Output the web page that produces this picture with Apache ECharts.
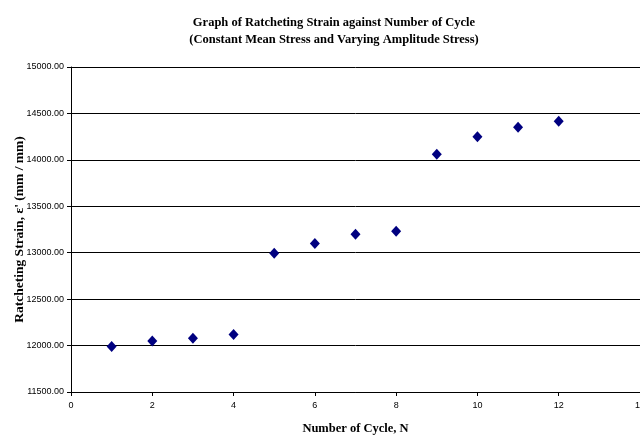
<!DOCTYPE html>
<html><head><meta charset="utf-8">
<script src="https://cdn.jsdelivr.net/npm/echarts@6/dist/echarts.min.js"></script>
<style>html,body{margin:0;padding:0;background:#fff}#c{width:640px;height:435px}</style>
</head><body><div id="c"></div>
<script>
const cycles = [1,2,3,4,5,6,7,8,9,10,11,12];
const strain = [11990,12050,12080,12120,12995,13100,13200,13230,14060,14250,14350,14415];
const titleLines = ['Graph of Ratcheting Strain against Number of Cycle','(Constant Mean Stress and Varying Amplitude Stress)'];
const xName = 'Number of Cycle, N';
const yName = "Ratcheting Strain, ε' (mm / mm)";

const chart = echarts.init(document.getElementById('c'), null, {renderer:'canvas'});
chart.setOption({
  animation:false,
  backgroundColor:'#fff',
  title:{text:titleLines.join('\n'), left:329, top:9, textAlign:'center',
    textStyle:{fontFamily:'Liberation Serif', fontWeight:'bold', fontSize:12.5, lineHeight:17, color:'#000'}},
  grid:{left:71, right:0, top:67, bottom:43, containLabel:false, outerBoundsMode:'none'},
  xAxis:{type:'value', min:0, max:14, interval:2,
    name:xName, nameLocation:'middle', nameGap:30,
    nameTextStyle:{fontFamily:'Liberation Serif', fontWeight:'bold', fontSize:12.5, color:'#000'},
    axisLine:{lineStyle:{color:'#000', width:1}},
    axisTick:{show:true, length:4, lineStyle:{color:'#000'}},
    axisLabel:{fontFamily:'Liberation Sans', fontSize:9, color:'#000', margin:9},
    splitLine:{show:false}},
  yAxis:{type:'value', min:11500, max:15000, interval:500,
    name:yName, nameLocation:'middle', nameGap:44, nameRotate:90, nameMoveOverlap:false,
    nameTextStyle:{fontFamily:'Liberation Serif', fontWeight:'bold', fontSize:13.5, color:'#000'},
    axisLine:{show:true, lineStyle:{color:'#000', width:1}},
    axisTick:{show:true, length:4, lineStyle:{color:'#000'}},
    axisLabel:{fontFamily:'Liberation Sans', fontSize:9, color:'#000', margin:7,
      formatter:v=>v.toFixed(2)},
    splitLine:{show:true, lineStyle:{color:'#000', width:1}}},
  series:[{type:'scatter', data:cycles.map((c,i)=>[c,strain[i]]),
    symbol:'diamond', symbolSize:[10,11],
    itemStyle:{color:'#000080', opacity:1}}]
});
</script></body></html>
